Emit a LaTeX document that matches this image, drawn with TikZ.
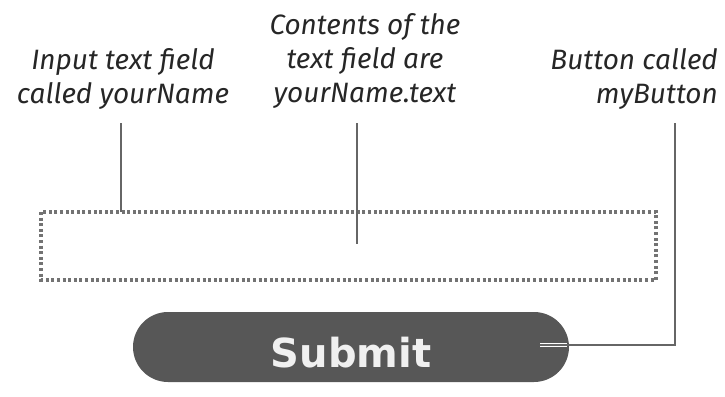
\documentclass[tikz,border=0pt]{standalone}
\usepackage{fontspec}
\setmainfont{Fira Sans}
\newfontfamily\btnfont{DejaVu Sans}
\begin{document}
\begin{tikzpicture}[x=1pt,y=-1pt,
  label/.style={font=\itshape\fontsize{28}{33.5}\selectfont, text=black!85, inner sep=0pt},
  leader/.style={draw=black!60, line width=1.5pt},
  halo/.style={draw=white, line width=4.5pt},
  field/.style={draw=black!55, line width=3.2pt, dash pattern=on 3pt off 2.6pt},
  btn/.style={fill=black!66, rounded corners=35pt}]
\useasboundingbox (0,0) rectangle (725,396);
% annotation labels (anchored on the baseline of their last line)
\node[label, align=center, anchor=base] (lblField) at (123,103) {Input text field\\called yourName};
\node[label, align=center, anchor=base] (lblText) at (365,102) {Contents of the\\text field are\\yourName.text};
\node[label, align=right, anchor=base east] (lblBtn) at (718,103) {Button called\\myButton};
% the text input and the button
\draw[field] (41,212) rectangle (656,280);
\coordinate (fieldTop) at (121,212);
\coordinate (fieldMid) at (357,244);
\fill[btn] (133,312) rectangle (569,382);
\node[font=\btnfont\bfseries\fontsize{40}{40}\selectfont, text=black!6, inner sep=0pt, anchor=base] (submit) at (351,367) {Submit};
\coordinate (btnEnd) at (540,345);
\coordinate (btnEdge) at (567,345);
\coordinate (btnCorner) at (675,345);
% leader lines
\draw[leader] (121,123) -- (fieldTop);
\draw[leader] (357,123) -- (fieldMid);
\draw[halo] (btnEnd) -- (btnEdge);
\draw[leader] (675,123) -- (btnCorner) -- (btnEnd);
\end{tikzpicture}
\end{document}
